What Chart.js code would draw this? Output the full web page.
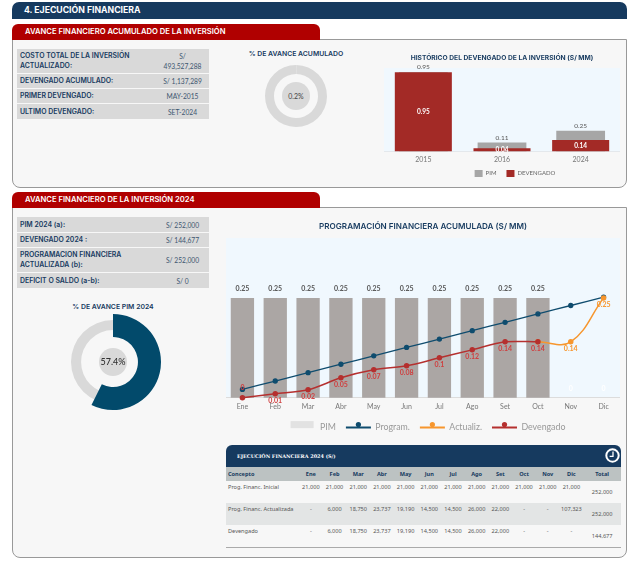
<!DOCTYPE html>
<html lang="es">
<head>
<meta charset="utf-8">
<title>Ejecución financiera</title>
<script src="https://cdn.jsdelivr.net/npm/chart.js@4"></script>
<style>
  html, body { margin: 0; padding: 0; background: #fff; }
  #page { position: relative; width: 640px; height: 573px; overflow: hidden; font-family: Inter, sans-serif; color: #163a5f; }
  #page > * { position: absolute; }
  canvas { display: block; }
  .topbar { left: 12px; top: 2px; width: 615px; height: 17px; background: #163a5f; border-radius: 7px 7px 0 0; color: #fff; font-weight: 700; font-size: 8.7px; line-height: 17px; text-indent: 12px; }
  .tab { left: 12px; width: 308px; height: 16px; background: #b00000; border-radius: 6px 6px 0 0; color: #fff; font-weight: 600; font-size: 7.65px; line-height: 15px; text-indent: 13px; }
  .panel { left: 12px; width: 613px; background: #f7f7f7; border: 1px solid #999; border-radius: 0 0 8px 8px; }
  .kv { left: 17px; width: 192px; font-size: 6.9px; line-height: 10px; }
  .kv div { display: flex; align-items: center; background: #d9d9d9; margin-bottom: 1px; box-sizing: border-box; }
  .kv b { width: 139px; padding-left: 3px; font-weight: 600; box-sizing: border-box; }
  .kv span { width: 53px; padding: 0 7px; box-sizing: border-box; text-align: center; color: #3d5670; font-family: Lato, sans-serif; font-size: 6.7px; }
  .dtitle { text-align: center; font-weight: 600; font-size: 6.85px; width: 140px; }
  .hole { border-radius: 50%; background: #d9d9d9; text-align: center; }
  #execHead { left: 226px; top: 445px; width: 395px; height: 22px; background: #163a5f; border-radius: 6px 6px 0 0; color: #fff; font: bold 4.95px/22px "DejaVu Serif", serif; text-indent: 11px; }
  #clock { left: 605px; top: 448px; }
  #execTable { left: 226px; top: 467px; width: 395px; border-collapse: collapse; table-layout: fixed; font: 5.6px "Noto Sans", sans-serif; color: #555; border-bottom: 1px solid #aaa; }
  #execTable th { height: 14px; padding: 0; background: #bcc2c2; color: #163a5f; font-size: 5.6px; }
  #execTable th:first-child, #execTable td:first-child { text-align: left; padding-left: 2px; }
  #execTable td { height: 22px; padding: 2px 0 0; box-sizing: border-box; text-align: center; vertical-align: top; }
  #execTable td:last-child { vertical-align: middle; padding-top: 0; }
  #execTable tr:nth-child(3) td { background: #e3e5e5; }
</style>
</head>
<body>
<div id="page">
  <div class="topbar">4. EJECUCIÓN FINANCIERA</div>
  <div class="panel" style="top:39px;height:147px"></div>
  <div class="tab" style="top:24px">AVANCE FINANCIERO ACUMULADO DE LA INVERSIÓN</div>
  <div class="kv" id="kvTotal" style="top:49px"></div>
  <div class="dtitle" style="left:226px;top:49px">% DE AVANCE ACUMULADO</div>
  <canvas id="donutTotal" width="70" height="70" style="left:261px;top:61px"></canvas>
  <div class="hole" style="left:282px;top:82px;width:28px;height:28px;font:7px/28px Lato,sans-serif;color:#444">0.2%</div>
  <canvas id="histChart" width="236" height="144" style="left:384px;top:51px"></canvas>

  <div class="panel" style="top:207px;height:349px"></div>
  <div class="tab" style="top:192px">AVANCE FINANCIERO DE LA INVERSIÓN 2024</div>
  <div class="kv" id="kv2024" style="top:217px"></div>
  <div class="dtitle" style="left:43px;top:302px">% DE AVANCE PIM 2024</div>
  <canvas id="donutRest" width="100" height="100" style="left:63px;top:312px"></canvas>
  <canvas id="donutPim" width="100" height="100" style="left:63px;top:312px"></canvas>
  <div class="hole" style="left:99px;top:348px;width:28px;height:28px;font:500 9px/28px Lato,sans-serif;color:#333">57.4%</div>
  <canvas id="progChart" width="394" height="230" style="left:226px;top:215px"></canvas>

  <div id="execHead">EJECUCIÓN FINANCIERA 2024 (S/)</div>
  <svg id="clock" width="15" height="15" viewBox="0 0 15 15"><circle cx="7.5" cy="7.5" r="6.2" fill="#163a5f" stroke="#fff" stroke-width="2"/><path d="M8 3.5V8.3H4.6" fill="none" stroke="#fff" stroke-width="1.3"/></svg>
  <table id="execTable"></table>
</div>

<script>
// ---- data ----
const histYears = ['2015', '2016', '2024'];
const histPim = [0.95, 0.11, 0.25];
const histDevengado = [0.95, 0.04, 0.14];

const months = ['Ene','Feb','Mar','Abr','May','Jun','Jul','Ago','Set','Oct','Nov','Dic'];
const pimMonthly = [0.25,0.25,0.25,0.25,0.25,0.25,0.25,0.25,0.25,0.25,0,0];
const programAcum = [0.021,0.042,0.063,0.084,0.105,0.126,0.147,0.168,0.189,0.21,0.231,0.252];
const actualizAcum = [null,null,null,null,null,null,null,null,null,0.14,0.14,0.25];
const devengadoAcum = [0,0.01,0.02,0.05,0.07,0.08,0.1,0.12,0.14,0.14,null,null];

const avanceTotal = [0.2, 99.8];
const avancePim = [57.4, 42.6];

const kvTotalRows = [
    ['COSTO TOTAL DE LA INVERSIÓN ACTUALIZADO:', 'S/ 493,527,288', 24],
    ['DEVENGADO ACUMULADO:', 'S/ 1,137,289', 14],
    ['PRIMER DEVENGADO:', 'MAY-2015', 14],
    ['ULTIMO DEVENGADO:', 'SET-2024', 15]
];
const kv2024Rows = [
    ['PIM 2024 (a):', 'S/ 252,000', 15],
    ['DEVENGADO 2024 :', 'S/ 144,677', 14],
    ['PROGRAMACION FINANCIERA ACTUALIZADA (b):', 'S/ 252,000', 24],
    ['DEFICIT O SALDO (a-b):', 'S/ 0', 15]
];

const execHeader = ['Concepto', ...months, 'Total'];
const execInicial = ['Prog. Financ. Inicial','21,000','21,000','21,000','21,000','21,000','21,000','21,000','21,000','21,000','21,000','21,000','21,000','252,000'];
const execActual = ['Prog. Financ. Actualizada','-','6,000','18,750','23,737','19,190','14,500','14,500','26,000','22,000','-','-','107,323','252,000'];
const execDevengado = ['Devengado','-','6,000','18,750','23,737','19,190','14,500','14,500','26,000','22,000','-','-','-','144,677'];

// ---- html tables ----
function fillKv(id, rows) {
    document.getElementById(id).innerHTML = rows.map(r =>
        `<div style="height:${r[2]}px"><b>${r[0]}</b><span>${r[1]}</span></div>`).join('');
}
fillKv('kvTotal', kvTotalRows);
fillKv('kv2024', kv2024Rows);

const colWidths = [73].concat(months.map(() => 23.7)).concat([37.6]);
document.getElementById('execTable').innerHTML =
    '<colgroup>' + colWidths.map(w => `<col style="width:${w}px">`).join('') + '</colgroup>' +
    '<tr>' + execHeader.map(h => `<th>${h}</th>`).join('') + '</tr>' +
    [execInicial, execActual, execDevengado].map(row =>
        '<tr>' + row.map(c => `<td>${c}</td>`).join('') + '</tr>').join('');

// ---- chart helpers ----
Chart.defaults.animation = false;
Chart.defaults.responsive = false;
Chart.defaults.font.family = 'Lato, sans-serif';

const plotBackground = {
    id: 'plotBackground',
    beforeDraw(chart) {
        const a = chart.chartArea;
        chart.ctx.fillStyle = '#f0f8fe';
        chart.ctx.fillRect(a.left, a.top, a.width, a.height);
    }
};

// legend is not centred on the plot in the original
const legendShift = {
    id: 'legendShift',
    afterLayout(chart, args, opts) {
        const l = chart.legend;
        const dx = opts.dx || 0, dy = opts.dy || 0;
        l.left += dx; l.right += dx;
        l.top += dy; l.bottom += dy;
        l.legendHitBoxes.forEach(b => { b.left += dx; b.top += dy; });
    }
};

// value labels, every dataset says how it wants them
const valueLabels = {
    id: 'valueLabels',
    afterDatasetsDraw(chart) {
        const ctx = chart.ctx;
        ctx.save();
        ctx.textAlign = 'center';
        ctx.textBaseline = 'middle';
        chart.data.datasets.forEach((ds, i) => {
            if (!ds.valueLabel) return;
            chart.getDatasetMeta(i).data.forEach((el, j) => {
                const v = ds.data[j];
                if (v === null) return;
                const s = ds.valueLabel(v, j);
                if (!s) return;
                ctx.font = s.font;
                ctx.fillStyle = s.color;
                const y = s.center ? (el.y + el.base) / 2 : el.y + s.dy;
                ctx.fillText(String(v), el.x, y);
            });
        });
        ctx.restore();
    }
};

// ---- donuts ----
function ring(id, data, colors, radius, cutout) {
    new Chart(document.getElementById(id), {
        type: 'doughnut',
        data: { datasets: [{ data: data, backgroundColor: colors, borderWidth: 0 }] },
        options: { radius: radius, cutout: cutout, plugins: { legend: { display: false }, tooltip: { enabled: false } } }
    });
}
ring('donutTotal', avanceTotal, ['#d9d9d9', '#d9d9d9'], 31, '71%');
ring('donutRest', [1], ['#d9d9d9'], 42, '76%');
ring('donutPim', avancePim, ['#024a6b', 'rgba(0,0,0,0)'], 48, '52%');

// ---- historico ----
new Chart(document.getElementById('histChart'), {
    type: 'bar',
    data: {
        labels: histYears,
        datasets: [
            { label: 'DEVENGADO', data: histDevengado, backgroundColor: '#a32a26', grouped: false, order: 1,
              barPercentage: 0.725, categoryPercentage: 1,
              valueLabel: () => ({ font: 'bold 6.5px Lato', color: '#fff', center: true }) },
            { label: 'PIM', data: histPim, backgroundColor: '#a6a6a6', grouped: false, order: 2,
              barPercentage: 0.62, categoryPercentage: 1,
              valueLabel: () => ({ font: '6.5px Lato', color: '#555', dy: -5 }) }
        ]
    },
    options: {
        layout: { autoPadding: false },
        plugins: {
            title: { display: true, text: 'HISTÓRICO DEL DEVENGADO DE LA INVERSIÓN (S/ MM)', color: '#163a5f',
                     font: { family: 'Inter', size: 6.7, weight: '700' }, padding: { top: 3, bottom: 6 } },
            legend: { position: 'bottom', reverse: true, labels: { boxWidth: 8, boxHeight: 7, padding: 10, color: '#666', font: { size: 6 } } },
            legendShift: { dx: 13, dy: -8 },
            tooltip: { enabled: false }
        },
        scales: {
            x: { grid: { display: false, drawTicks: false }, border: { color: '#e4e8ec' }, ticks: { color: '#777', font: { size: 7 }, padding: 4 } },
            y: { display: false, min: 0, max: 1 }
        }
    },
    plugins: [plotBackground, legendShift, valueLabels]
});

// ---- programacion acumulada ----
const lineMarks = {
    id: 'lineMarks',
    afterDraw(chart) {
        const ctx = chart.ctx;
        chart.legend.legendItems.forEach((item, i) => {
            const b = chart.legend.legendHitBoxes[i];
            const ds = chart.data.datasets[item.datasetIndex];
            const cx = b.left + 12.5, cy = b.top + b.height / 2;
            ctx.fillStyle = ds.type === 'line' ? ds.borderColor : '#e2e2e2';
            if (ds.type === 'line') {
                ctx.beginPath();
                ctx.arc(cx, cy, 2.6, 0, Math.PI * 2);
                ctx.fill();
            } else {
                ctx.fillRect(b.left, cy - 3.5, 23, 7);
            }
        });
    }
};

new Chart(document.getElementById('progChart'), {
    data: {
        labels: months,
        datasets: [
            { type: 'bar', label: 'PIM', data: pimMonthly, backgroundColor: '#aba6a4', order: 4,
              barPercentage: 0.71, categoryPercentage: 1,
              valueLabel: v => ({ font: 'bold 7px Lato', color: v === 0 ? '#fff' : '#555', dy: -9 }) },
            { type: 'line', label: 'Program.', data: programAcum, borderColor: '#0f4c6e', backgroundColor: '#0f4c6e',
              borderWidth: 1.3, pointRadius: 2, tension: 0.2, order: 3 },
            { type: 'line', label: 'Actualiz.', data: actualizAcum, borderColor: '#f7962d', backgroundColor: '#f7962d',
              borderWidth: 1.5, pointRadius: 2, tension: 0.4, order: 2,
              valueLabel: (v, j) => j === 9 ? null : { font: 'bold 7px Lato', color: '#f7962d', dy: 7 } },
            { type: 'line', label: 'Devengado', data: devengadoAcum, borderColor: '#b5302f', backgroundColor: '#b5302f',
              borderWidth: 1.5, pointRadius: 2, tension: 0.3, order: 1,
              valueLabel: (v, j) => ({ font: 'bold 7px Lato', color: '#cf3f3f', dy: j === 0 ? -10 : 7 }) }
        ]
    },
    options: {
        clip: false,
        layout: { autoPadding: false },
        plugins: {
            title: { display: true, text: 'PROGRAMACIÓN FINANCIERA ACUMULADA (S/ MM)', color: '#163a5f',
                     font: { family: 'Inter', size: 8.15, weight: '600' }, padding: { top: 7, bottom: 6.2 } },
            legend: { position: 'bottom', labels: { boxWidth: 25, boxHeight: 2, padding: 10, color: '#999', font: { size: 8.8 },
                      generateLabels(chart) {
                          return chart.data.datasets.map((ds, i) => ({
                              text: ds.label, datasetIndex: i, fontColor: '#999', lineWidth: 0,
                              fillStyle: ds.type === 'line' ? ds.borderColor : 'rgba(0,0,0,0)'
                          }));
                      } } },
            legendShift: { dx: 5, dy: -3 },
            tooltip: { enabled: false }
        },
        scales: {
            x: { grid: { display: false, drawTicks: false }, border: { color: '#dcdcdc' }, ticks: { color: '#777', font: { size: 7 }, padding: 5 } },
            y: { display: false, min: 0, max: 0.4 }
        }
    },
    plugins: [plotBackground, legendShift, valueLabels, lineMarks]
});
</script>
</body>
</html>
